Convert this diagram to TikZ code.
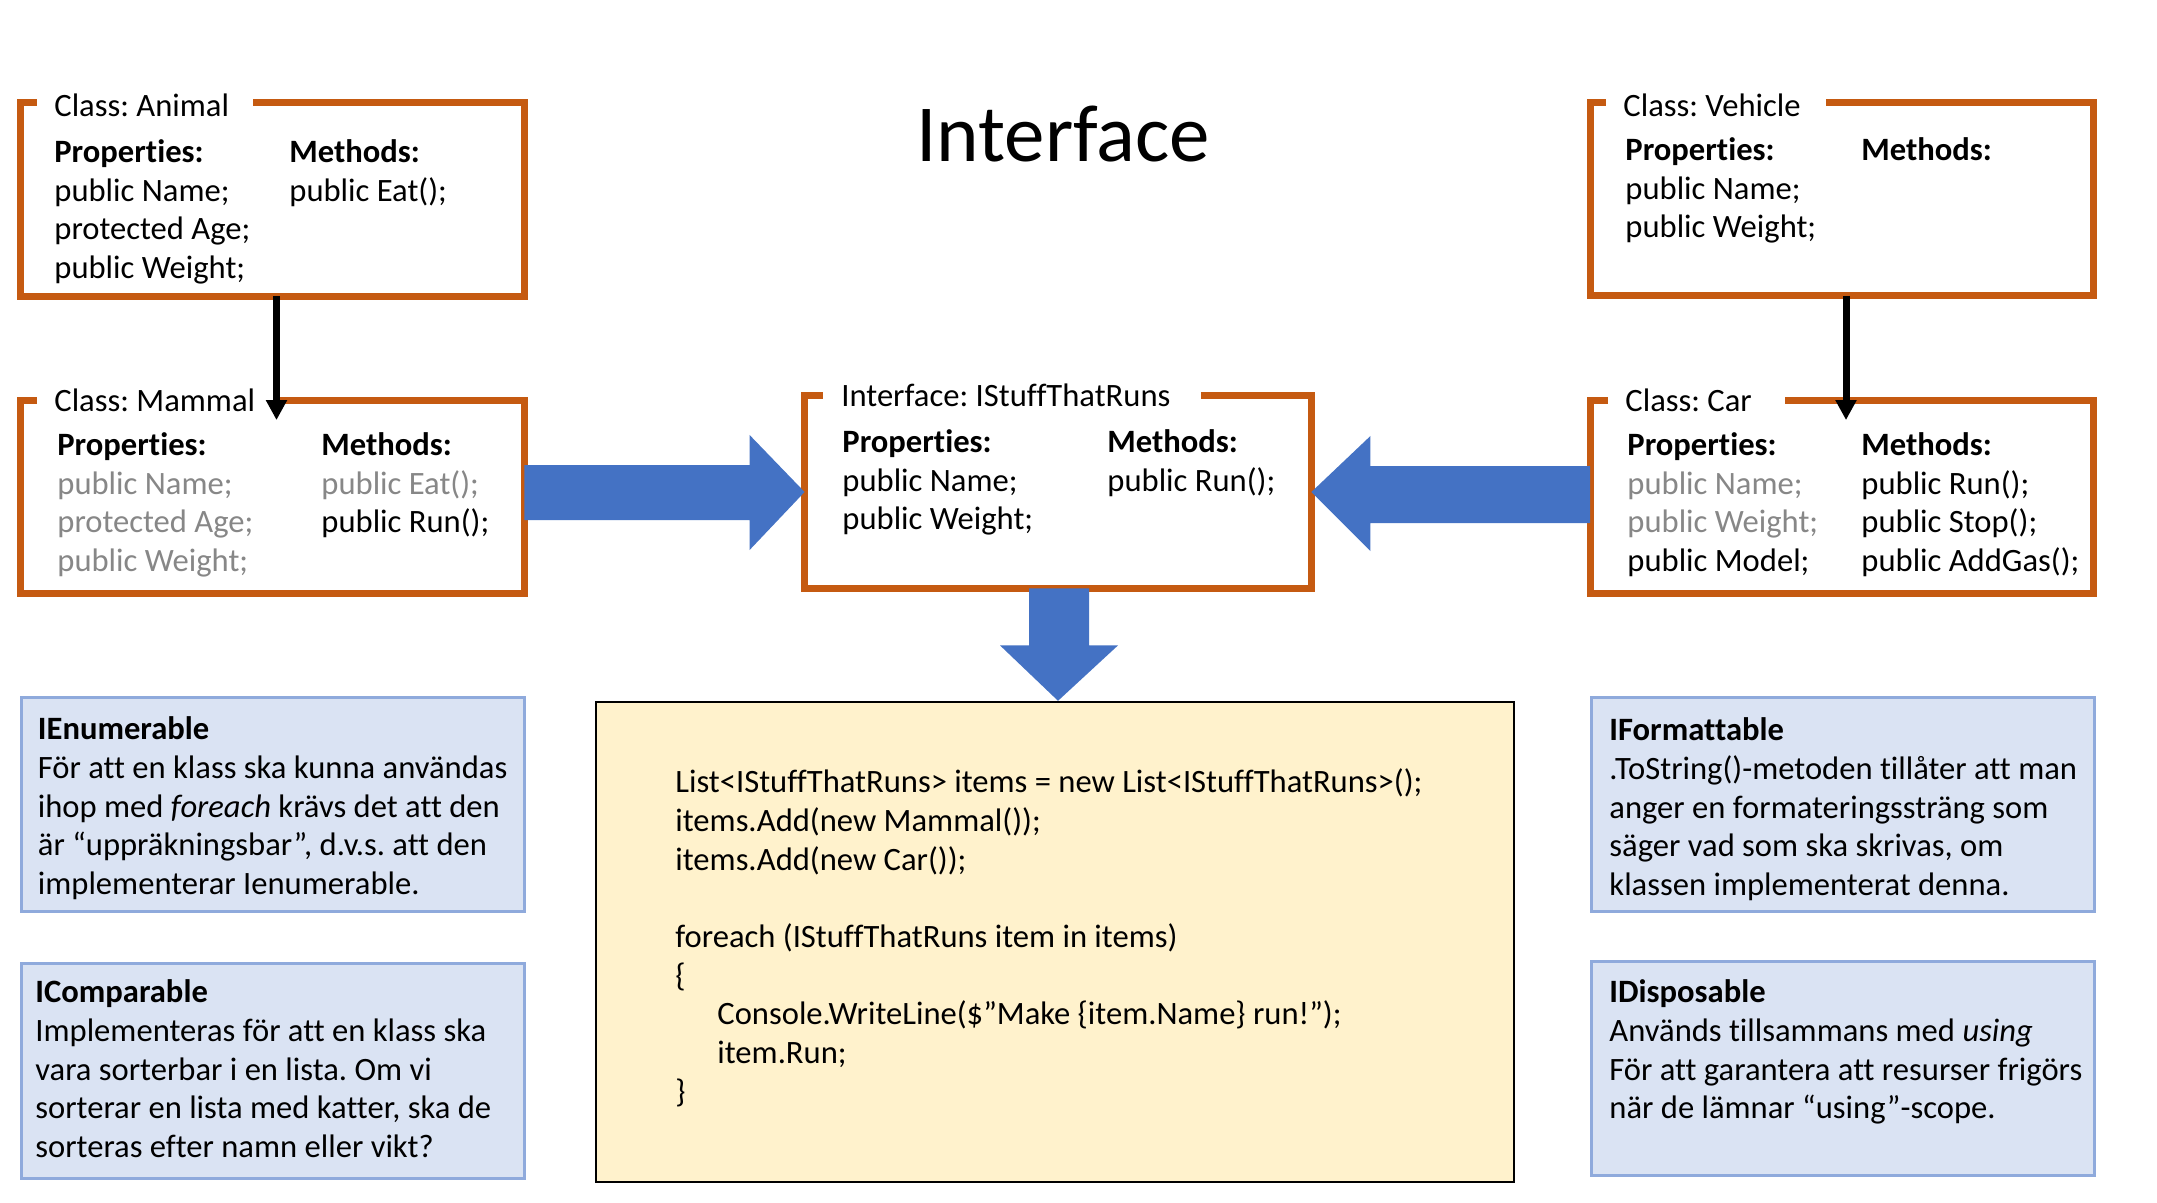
\documentclass[tikz,border=0pt]{standalone}
\usepackage{fontspec}
\setmainfont{Carlito}[Ligatures={NoCommon}]
\usetikzlibrary{arrows.meta,calc}
\definecolor{borange}{RGB}{197,90,17}
\definecolor{bblue}{RGB}{68,114,196}
\definecolor{lblue}{RGB}{218,227,243}
\definecolor{lbord}{RGB}{143,170,220}
\definecolor{lyellow}{RGB}{255,242,204}
\definecolor{ghost}{RGB}{135,135,135}
\newcommand{\colstack}[1]{\begin{tabular}[t]{@{}l@{}}#1\end{tabular}}
\newcommand{\gr}[1]{\textcolor{ghost}{#1}}
\frenchspacing
\tikzset{
  every node/.style={font=\fontsize{16.3}{19.35}\selectfont},
  cbox/.style={minimum width=251.5pt, minimum height=96.5pt, inner sep=0pt, draw=none},
  obord/.style={draw=borange, line width=3.5pt},
  ttl/.style={anchor=base west, inner sep=0pt, yshift=-1pt},
  txt/.style={anchor=base west, inner sep=0pt, yshift=-1.3pt},
  inh/.style={line width=3.5pt, -{Triangle[width=10pt,length=10pt]}},
  barrow/.style={fill=bblue},
  infobox/.style={fill=lblue, draw=lbord, line width=1.5pt, minimum width=251.5pt, minimum height=107pt, inner sep=0pt},
  codebox/.style={fill=lyellow, draw=black, line width=1.2pt, minimum width=459pt, minimum height=240pt, inner sep=0pt},
}
\begin{document}
\begin{tikzpicture}[x=0.5pt,y=-0.5pt]
\useasboundingbox (0,0) rectangle (2157,1203);
\fill[white] (0,0) rectangle (2157,1203);

% title
\node[font=\fontsize{40.5}{48}\selectfont, anchor=base, inner sep=0pt] (title) at (1063,162) {Interface};

% Animal
\node[cbox] (animal) at (272.5,199.5) {};
\node[ttl] (animalT) at (54,115) {Class: Animal};
\draw[obord] ($(animalT.east |- animal.north)+(24,0)$) -| (animal.south east) -| (animal.north west) -- ($(animalT.west |- animal.north)+(-17,0)$);
\node[txt] (animalP) at (54,160) {\colstack{\textbf{Properties:}\\public Name;\\protected Age;\\public Weight;}};
\node[txt] (animalM) at (289,160) {\colstack{\textbf{Methods:}\\public Eat();}};

% Mammal
\node[cbox] (mammal) at (272.5,497) {};
\node[ttl] (mammalT) at (54,410) {Class: Mammal};
\draw[obord] ($(mammalT.east |- mammal.north)+(24,0)$) -| (mammal.south east) -| (mammal.north west) -- ($(mammalT.west |- mammal.north)+(-17,0)$);
\node[txt] (mammalP) at (57,453) {\colstack{\textbf{Properties:}\\\gr{public Name;}\\\gr{protected Age;}\\\gr{public Weight;}}};
\node[txt] (mammalM) at (321,453) {\colstack{\textbf{Methods:}\\\gr{public Eat();}\\public Run();}};

% Interface
\node[cbox, minimum width=253pt, minimum height=96pt] (iface) at (1058,492) {};
\node[ttl] (ifaceT) at (841,405) {Interface: IStuffThatRuns};
\draw[obord] ($(ifaceT.east |- iface.north)+(30,0)$) -| (iface.south east) -| (iface.north west) -- ($(ifaceT.west |- iface.north)+(-18,0)$);
\node[txt] (ifaceP) at (842,450) {\colstack{\textbf{Properties:}\\public Name;\\public Weight;}};
\node[txt] (ifaceM) at (1107,450) {\colstack{\textbf{Methods:}\\public Run();}};

% Vehicle
\node[cbox] (vehicle) at (1842,199) {};
\node[ttl] (vehicleT) at (1623,115) {Class: Vehicle};
\draw[obord] ($(vehicleT.east |- vehicle.north)+(25,0)$) -| (vehicle.south east) -| (vehicle.north west) -- ($(vehicleT.west |- vehicle.north)+(-17,0)$);
\node[txt] (vehicleP) at (1625,158) {\colstack{\textbf{Properties:}\\public Name;\\public Weight;}};
\node[txt] (vehicleM) at (1861,158) {\colstack{\textbf{Methods:}}};

% Car
\node[cbox] (car) at (1842,497) {};
\node[ttl] (carT) at (1625,410) {Class: Car};
\draw[obord] ($(carT.east |- car.north)+(33,0)$) -| (car.south east) -| (car.north west) -- ($(carT.west |- car.north)+(-17,0)$);
\node[txt] (carP) at (1627,453) {\colstack{\textbf{Properties:}\\\gr{public Name;}\\\gr{public Weight;}\\public Model;}};
\node[txt] (carM) at (1861,453) {\colstack{\textbf{Methods:}\\public Run();\\public Stop();\\public AddGas();}};

% inheritance arrows
\draw[inh] ([xshift=2pt]animal.south) -- ([xshift=2pt,yshift=-10pt]mammal.north);
\draw[inh] ([xshift=2pt]vehicle.south) -- ([xshift=2pt,yshift=-10pt]car.north);

% code box
\node[codebox] (code) at (1055,942) {};
\node[txt] (codeT) at (675,790) {\colstack{List<IStuffThatRuns> items = new List<IStuffThatRuns>();\\items.Add(new Mammal());\\items.Add(new Car());\\ \\foreach (IStuffThatRuns item in items)\\\{\\\hspace{21pt}Console.WriteLine(\$”Make \{item.Name\} run!”);\\\hspace{21pt}item.Run;\\\}}};

% block arrows
\fill[barrow] ($(mammal.east |- iface.west)+(0,-27)$) -- ($(iface.west)+(-55,-27)$) -- ($(iface.west)+(-55,-57)$) -- (iface.west) -- ($(iface.west)+(-55,58)$) -- ($(iface.west)+(-55,28)$) -- ($(mammal.east |- iface.west)+(0,28)$) -- cycle;
\fill[barrow] ($(car.west |- iface.east)+(0,-26)$) -- ($(iface.east)+(59,-26)$) -- ($(iface.east)+(59,-56)$) -- (iface.east) -- ($(iface.east)+(59,59)$) -- ($(iface.east)+(59,31)$) -- ($(car.west |- iface.east)+(0,31)$) -- cycle;
\fill[barrow] ($(iface.south)+(-29,0)$) -- ($(iface.south)+(-29,57)$) -- ($(iface.south)+(-58,57)$) -- (iface.south |- code.north) -- ($(iface.south)+(60,57)$) -- ($(iface.south)+(31,57)$) -- ($(iface.south)+(31,0)$) -- cycle;

% info boxes
\node[infobox] (ienum) at (272.5,804) {};
\node[txt] (ienumT) at (37.5,737) {\colstack{\textbf{IEnumerable}\\För att en klass ska kunna användas\\ihop med \textit{foreach} krävs det att den\\är “uppräkningsbar”, d.v.s. att den\\implementerar Ienumerable.}};
\node[infobox, minimum height=107.5pt] (icomp) at (272.5,1070.5) {};
\node[txt] (icompT) at (35,1000) {\colstack{\textbf{IComparable}\\Implementeras för att en klass ska\\vara sorterbar i en lista. Om vi\\sorterar en lista med katter, ska de\\sorteras efter namn eller vikt?}};
\node[infobox] (iform) at (1842.5,804.5) {};
\node[txt] (iformT) at (1609,738) {\colstack{\textbf{IFormattable}\\.ToString()-metoden tillåter att man\\anger en formateringssträng som\\säger vad som ska skrivas, om\\klassen implementerat denna.}};
\node[infobox] (idisp) at (1842.5,1068) {};
\node[txt] (idispT) at (1609,1000) {\colstack{\textbf{IDisposable}\\Används tillsammans med \textit{using}\\För att garantera att resurser frigörs\\när de lämnar “using”-scope.}};
\end{tikzpicture}
\end{document}
